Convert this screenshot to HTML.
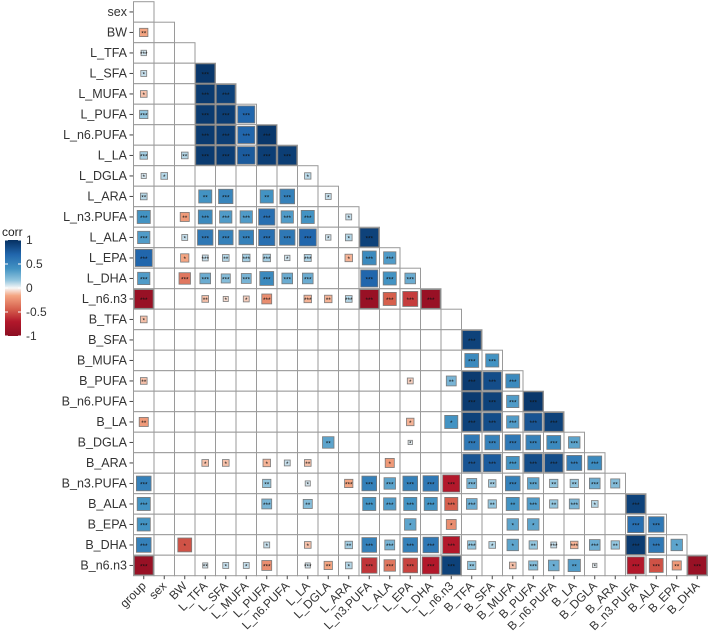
<!DOCTYPE html>
<html><head><meta charset="utf-8"><style>
body{margin:0;background:#fff;}
svg{display:block;font-family:"Liberation Sans",sans-serif;}
</style></head><body>
<svg id="chart" width="708" height="634" viewBox="0 0 708 634" xmlns="http://www.w3.org/2000/svg">
<g id="legend">
<text x="2" y="236" font-size="12" fill="#222">corr</text>
<defs><linearGradient id="cg" x1="0" y1="0" x2="0" y2="1">
<stop offset="0" stop-color="#053061"/><stop offset="0.15" stop-color="#2166AC"/><stop offset="0.3" stop-color="#4393C3"/><stop offset="0.42" stop-color="#92C5DE"/><stop offset="0.5" stop-color="#F7F7F7"/><stop offset="0.58" stop-color="#F4A582"/><stop offset="0.72" stop-color="#D6604D"/><stop offset="0.85" stop-color="#B2182B"/><stop offset="1" stop-color="#8B0E22"/></linearGradient></defs>
<rect x="5" y="240" width="16" height="96" fill="url(#cg)"/>
</g>
<g id="grid"></g><g id="marks"></g><g id="axes"></g>
</svg>
<script>
const variables = ["group","sex","BW","L_TFA","L_SFA","L_MUFA","L_PUFA","L_n6.PUFA","L_LA","L_DGLA","L_ARA","L_n3.PUFA","L_ALA","L_EPA","L_DHA","L_n6.n3","B_TFA","B_SFA","B_MUFA","B_PUFA","B_n6.PUFA","B_LA","B_DGLA","B_ARA","B_n3.PUFA","B_ALA","B_EPA","B_DHA","B_n6.n3"];
const legendTicks = [1,0.5,0,-0.5,-1];
// [row, col, r, significance]
const corrEntries = [
[2,0,-0.3,'**'],
[3,0,0.12,'***'],
[4,0,0.15,'*'],[4,3,0.98,'***'],
[5,0,-0.2,'*'],[5,3,0.97,'***'],[5,4,0.95,'***'],
[6,0,0.3,'***'],[6,3,0.97,'***'],[6,4,0.96,'***'],[6,5,0.85,'***'],
[7,3,0.97,'***'],[7,4,0.96,'***'],[7,5,0.85,'***'],[7,6,0.98,'***'],
[8,0,0.25,'***'],[8,2,0.2,'**'],[8,3,0.97,'***'],[8,4,0.96,'***'],[8,5,0.88,'***'],[8,6,0.96,'***'],[8,7,0.96,'***'],
[9,0,0.1,'*'],[9,1,0.2,'*'],[9,8,0.18,'*'],
[10,0,0.2,'**'],[10,3,0.6,'**'],[10,4,0.68,'***'],[10,6,0.6,'**'],[10,7,0.7,'***'],[10,9,0.15,'*'],
[11,0,0.6,'***'],[11,2,-0.35,'**'],[11,3,0.65,'***'],[11,4,0.55,'***'],[11,5,0.55,'***'],[11,6,0.8,'***'],[11,7,0.55,'***'],[11,8,0.6,'***'],[11,10,0.15,'*'],
[12,0,0.55,'***'],[12,2,0.15,'*'],[12,3,0.75,'***'],[12,4,0.7,'***'],[12,5,0.7,'***'],[12,6,0.8,'***'],[12,7,0.75,'***'],[12,8,0.85,'***'],[12,9,0.12,'*'],[12,10,0.2,'*'],[12,11,0.95,'***'],
[13,0,0.85,'***'],[13,2,-0.3,'*'],[13,3,0.15,'***'],[13,4,0.2,'**'],[13,5,0.25,'***'],[13,6,0.25,'***'],[13,7,0.12,'*'],[13,8,0.22,'***'],[13,10,-0.25,'*'],[13,11,0.65,'***'],[13,12,0.55,'***'],
[14,0,0.55,'***'],[14,2,-0.5,'***'],[14,3,0.45,'***'],[14,4,0.35,'***'],[14,5,0.4,'***'],[14,6,0.65,'***'],[14,7,0.45,'***'],[14,8,0.45,'***'],[14,11,0.85,'***'],[14,12,0.6,'***'],[14,13,0.45,'***'],
[15,0,-0.95,'***'],[15,3,-0.2,'**'],[15,4,-0.1,'*'],[15,5,-0.15,'*'],[15,6,-0.4,'***'],[15,8,-0.25,'***'],[15,9,-0.25,'**'],[15,10,0.2,'***'],[15,11,-0.95,'***'],[15,12,-0.6,'***'],[15,13,-0.72,'***'],[15,14,-0.95,'***'],
[16,0,-0.2,'*'],
[17,16,0.95,'***'],
[18,16,0.65,'***'],[18,17,0.6,'***'],
[19,0,-0.2,'**'],[19,13,-0.15,'*'],[19,15,0.4,'**'],[19,16,0.97,'***'],[19,17,0.92,'***'],[19,18,0.65,'***'],
[20,16,0.97,'***'],[20,17,0.95,'***'],[20,18,0.55,'***'],[20,19,0.98,'***'],
[21,0,-0.35,'**'],[21,13,-0.25,'*'],[21,15,0.6,'*'],[21,16,0.95,'***'],[21,17,0.92,'***'],[21,18,0.55,'***'],[21,19,0.9,'***'],[21,20,0.95,'***'],
[22,9,0.5,'**'],[22,13,0.05,'*'],[22,16,0.75,'***'],[22,17,0.7,'***'],[22,18,0.75,'***'],[22,19,0.7,'***'],[22,20,0.65,'***'],[22,21,0.5,'***'],
[23,3,-0.2,'*'],[23,4,-0.2,'*'],[23,6,-0.25,'*'],[23,7,0.15,'*'],[23,8,-0.2,'**'],[23,12,-0.35,'*'],[23,16,0.9,'***'],[23,17,0.88,'***'],[23,18,0.6,'***'],[23,19,0.92,'***'],[23,20,0.92,'***'],[23,21,0.72,'***'],[23,22,0.65,'***'],
[24,0,0.7,'***'],[24,6,0.3,'**'],[24,8,0.1,'*'],[24,10,-0.3,'***'],[24,11,0.7,'***'],[24,12,0.5,'***'],[24,13,0.7,'***'],[24,14,0.75,'***'],[24,15,-0.85,'***'],[24,16,0.4,'***'],[24,17,0.25,'**'],[24,18,0.7,'***'],[24,19,0.5,'***'],[24,20,0.3,'**'],[24,21,0.3,'**'],[24,22,0.45,'***'],[24,23,0.35,'**'],
[25,0,0.6,'***'],[25,6,0.4,'***'],[25,8,0.35,'**'],[25,11,0.6,'***'],[25,12,0.55,'***'],[25,13,0.6,'***'],[25,14,0.6,'***'],[25,15,-0.6,'***'],[25,16,0.45,'***'],[25,17,0.3,'**'],[25,18,0.6,'**'],[25,19,0.55,'***'],[25,20,0.3,'**'],[25,21,0.4,'***'],[25,22,0.2,'*'],[25,24,0.95,'***'],
[26,0,0.6,'***'],[26,13,0.5,'*'],[26,15,-0.4,'*'],[26,18,0.5,'*'],[26,19,0.5,'*'],[26,24,0.8,'***'],[26,25,0.75,'***'],
[27,0,0.7,'***'],[27,2,-0.65,'*'],[27,6,0.15,'*'],[27,8,-0.2,'*'],[27,10,0.25,'**'],[27,11,0.7,'***'],[27,12,0.4,'***'],[27,13,0.7,'***'],[27,14,0.75,'***'],[27,15,-0.85,'***'],[27,16,0.3,'***'],[27,17,0.2,'*'],[27,18,0.5,'*'],[27,19,0.3,'**'],[27,20,0.15,'***'],[27,21,-0.25,'***'],[27,22,0.45,'***'],[27,23,0.3,'**'],[27,24,0.97,'***'],[27,25,0.75,'***'],[27,26,0.5,'*'],
[28,0,-0.95,'***'],[28,3,0.1,'**'],[28,4,0.15,'*'],[28,5,0.15,'*'],[28,6,-0.4,'***'],[28,8,0.1,'***'],[28,9,-0.3,'**'],[28,10,0.2,'*'],[28,11,-0.75,'***'],[28,12,-0.5,'***'],[28,13,-0.7,'***'],[28,14,-0.85,'***'],[28,15,0.95,'***'],[28,16,0.3,'**'],[28,18,-0.2,'*'],[28,19,0.35,'***'],[28,20,0.45,'*'],[28,21,0.55,'**'],[28,22,0.05,'*'],[28,24,-0.85,'***'],[28,25,-0.65,'***'],[28,26,-0.35,'**'],[28,27,-0.95,'***']
];
const NS="http://www.w3.org/2000/svg";
const X0=133.5,Y0=1.7,CS=20.5,N=variables.length;
const xPos=c=>X0+c*CS;
const yPos=r=>Y0+(r-1)*CS;
const stops=[[-1,[139,14,34]],[-0.85,[178,24,43]],[-0.6,[214,96,77]],[-0.3,[244,165,130]],[0,[247,247,247]],[0.3,[146,197,222]],[0.6,[67,147,195]],[0.85,[33,102,172]],[1,[5,48,97]]];
function colorOf(v){for(let i=0;i<stops.length-1;i++){const a=stops[i],b=stops[i+1];if(v<=b[0]){const t=(v-a[0])/(b[0]-a[0]);const c=a[1].map((x,k)=>Math.round(x+(b[1][k]-x)*t));return `rgb(${c})`;}}return 'rgb(5,48,97)';}
function mk(tag,attrs,parent){const e=document.createElementNS(NS,tag);for(const k in attrs)e.setAttribute(k,attrs[k]);parent.appendChild(e);return e;}
const grid=document.getElementById('grid'),marks=document.getElementById('marks'),axes=document.getElementById('axes'),legend=document.getElementById('legend');
for(let r=1;r<N;r++){for(let c=0;c<r;c++){
 const e=mk('rect',{x:xPos(c),y:yPos(r),width:CS,height:CS,fill:'#fff',stroke:'#9a9a9a','stroke-width':1},grid);
 
 
}}
corrEntries.forEach(d=>{
 const [r,c,v,s]=d;const side=Math.min(19.5,3.5+16*Math.abs(v));
 const cx=xPos(c)+CS/2,cy=yPos(r)+CS/2;
 const sq=mk('rect',{x:cx-side/2,y:cy-side/2,width:side,height:side,fill:colorOf(v),stroke:'#7a7a7a','stroke-width':0.8},marks);
 
 
 const t=mk('text',{x:cx,y:cy+2.8,'font-size':6.5,'text-anchor':'middle',fill:'#111'},marks);
 t.textContent=s;
 
 
});
for(let r=1;r<N;r++){
 const y=yPos(r)+CS/2;
 mk('line',{x1:129.5,x2:133,y1:y,y2:y,stroke:'#444'},axes);
 const t=mk('text',{x:127,y:y+4.2,'font-size':12.5,'text-anchor':'end',fill:'#333'},axes);
 t.textContent=variables[r];
 
 
}
const yB=Y0+(N-1)*CS;
for(let c=0;c<N-1;c++){
 const x=xPos(c)+CS/2;
 mk('line',{x1:x,x2:x,y1:yB,y2:yB+3.5,stroke:'#444'},axes);
 const t=mk('text',{x:x+3,y:yB+11,'font-size':12,'text-anchor':'end',fill:'#333',transform:`rotate(-45 ${x+3} ${yB+11})`},axes);
 t.textContent=variables[c];
 
 
}
legendTicks.forEach(v=>{
 const y=240+(1-v)/2*96;
 mk('line',{x1:5,x2:8,y1:y,y2:y,stroke:'#fff'},legend);
 mk('line',{x1:18,x2:21,y1:y,y2:y,stroke:'#fff'},legend);
 const t=mk('text',{x:26,y:y+4,'font-size':12,fill:'#333'},legend);
 t.textContent=String(v);
 
 
});
</script>
</body></html>
